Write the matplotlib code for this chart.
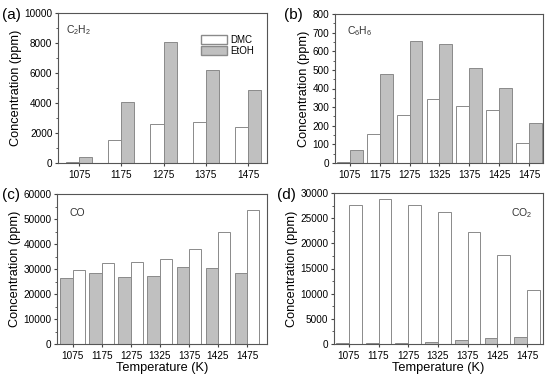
import matplotlib
matplotlib.use('Agg')
import matplotlib.pyplot as plt
import numpy as np
from matplotlib.patches import Patch

plt.rcParams['font.family'] = ['Liberation Sans', 'DejaVu Sans']
plt.rcParams['mathtext.default'] = 'regular'

# panel (a) C2H2
temps_a = ['1075', '1175', '1275', '1375', '1475']
c2h2_dmc = [100, 1550, 2620, 2750, 2430]
c2h2_etoh = [380, 4080, 8080, 6180, 4880]

# panels (b)-(d)
temps = ['1075', '1175', '1275', '1325', '1375', '1425', '1475']
c6h6_dmc = [5, 155, 260, 342, 305, 285, 105]
c6h6_etoh = [70, 478, 657, 638, 508, 402, 217]

co_gray = [26500, 28500, 27000, 27200, 30800, 30500, 28400]
co_white = [29700, 32300, 33000, 34100, 38100, 44800, 53600]

co2_gray = [100, 150, 250, 400, 700, 1100, 1400]
co2_white = [27600, 28800, 27600, 26200, 22300, 17600, 10800]

GRAY = '#c0c0c0'
EDGE = '#8a8a8a'
W, H = 550, 380


def make_ax(fig, left, right, top, bottom):
    return fig.add_axes([left / W, 1 - bottom / H, (right - left) / W, (bottom - top) / H])


def style(ax, ymax, major, minor, labels, xlim, xlabel=False):
    ax.set_ylim(0, ymax)
    ax.set_yticks(np.arange(0, ymax + 1, major))
    ax.set_yticks(np.arange(0, ymax + 1, minor), minor=True)
    ax.set_xticks(range(len(labels)))
    ax.set_xticklabels(labels)
    ax.set_xlim(*xlim)
    ax.tick_params(which='both', direction='out', labelsize=7.2, pad=1.5, color='#444444')
    ax.tick_params(which='major', length=2.5)
    ax.tick_params(which='minor', length=1.5)
    ax.tick_params(axis='x', pad=2.5, labelsize=7.2)
    for s in ax.spines.values():
        s.set_color('#555555')
        s.set_linewidth(0.8)
    ax.set_ylabel('Concentration (ppm)', fontsize=9.2, labelpad=2)
    if xlabel:
        ax.set_xlabel('Temperature (K)', fontsize=9.2, labelpad=1)


def pair(ax, left_vals, right_vals, left_col, right_col, w):
    x = np.arange(len(left_vals))
    ax.bar(x - w / 2, left_vals, w, color=left_col, edgecolor=EDGE, linewidth=0.7)
    ax.bar(x + w / 2, right_vals, w, color=right_col, edgecolor=EDGE, linewidth=0.7)


fig = plt.figure(figsize=(5.5, 3.8), dpi=100)

# (a)
ax = make_ax(fig, 58, 267, 13, 163)
pair(ax, c2h2_dmc, c2h2_etoh, 'white', GRAY, 0.31)
style(ax, 10000, 2000, 1000, temps_a, (-0.5, 4.45))
ax.text(0.04, 0.93, 'C$_2$H$_2$', transform=ax.transAxes, fontsize=7.5, va='top', color='#333333')
ax.legend(handles=[Patch(facecolor='white', edgecolor=EDGE, label='DMC'),
                   Patch(facecolor=GRAY, edgecolor=EDGE, label='EtOH')],
          loc='upper right', bbox_to_anchor=(0.97, 0.9), frameon=False, fontsize=7,
          handlelength=2.7, handleheight=1.0, handletextpad=0.3, labelspacing=0.1,
          borderpad=0.2)
fig.text(2 / W, 1 - 15 / H, '(a)', fontsize=11, va='center')

# (b)
ax = make_ax(fig, 335, 543, 14, 163)
pair(ax, c6h6_dmc, c6h6_etoh, 'white', GRAY, 0.43)
style(ax, 800, 100, 50, temps, (-0.5, 6.47))
ax.text(0.06, 0.93, 'C$_6$H$_6$', transform=ax.transAxes, fontsize=7.5, va='top', color='#333333')
fig.text(284 / W, 1 - 15 / H, '(b)', fontsize=11, va='center')

# (c)
ax = make_ax(fig, 57, 267, 194, 344)
pair(ax, co_gray, co_white, GRAY, 'white', 0.43)
style(ax, 60000, 10000, 5000, temps, (-0.55, 6.69), xlabel=True)
ax.text(0.06, 0.91, 'CO', transform=ax.transAxes, fontsize=7.5, va='top', color='#333333')
fig.text(2 / W, 1 - 195 / H, '(c)', fontsize=11, va='center')

# (d)
ax = make_ax(fig, 334, 543, 193, 344)
pair(ax, co2_gray, co2_white, GRAY, 'white', 0.43)
style(ax, 30000, 5000, 2500, temps, (-0.5, 6.54), xlabel=True)
ax.text(0.95, 0.91, 'CO$_2$', transform=ax.transAxes, fontsize=7.5, va='top', ha='right', color='#333333')
fig.text(277 / W, 1 - 195 / H, '(d)', fontsize=11, va='center')

fig.savefig('out.png', dpi=100)
